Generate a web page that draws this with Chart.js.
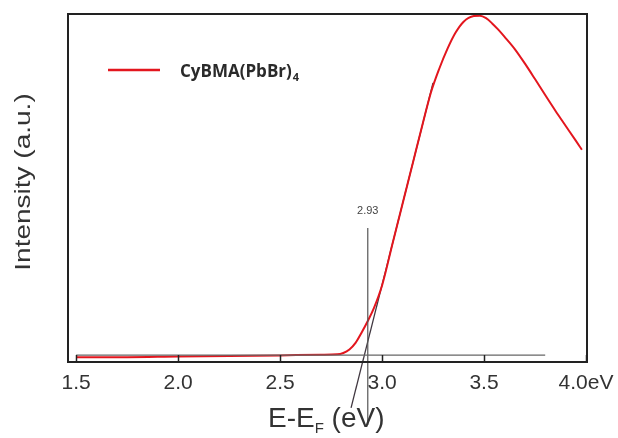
<!DOCTYPE html>
<html lang="en">
<head>
  <meta charset="UTF-8">
  <title>CyBMA(PbBr)4 onset</title>
  <script src="https://cdn.jsdelivr.net/npm/chart.js"></script>
  <style>
    * { margin: 0; padding: 0; box-sizing: border-box; }
    body { background: #fff; width: 618px; height: 438px; overflow: hidden; }
  </style>
</head>
<body>
  <canvas id="spectrum" width="618" height="438"></canvas>

  <script>
    // measured spectrum (eV vs normalised intensity)
    const energy = [1.5, 1.75, 2.0, 2.25, 2.5, 2.7, 2.78, 2.81, 2.84, 2.87, 2.9, 2.93, 2.96, 3.0, 3.05, 3.1, 3.15, 3.2, 3.24, 3.28, 3.32, 3.36, 3.4, 3.45, 3.48, 3.51, 3.54, 3.57, 3.6, 3.65, 3.7, 3.75, 3.8, 3.85, 3.9, 3.95, 3.98];
    const intensity = [0.014, 0.014, 0.016, 0.017, 0.019, 0.021, 0.022, 0.026, 0.036, 0.055, 0.085, 0.118, 0.155, 0.22, 0.337, 0.453, 0.57, 0.686, 0.775, 0.842, 0.899, 0.946, 0.978, 0.994, 0.995, 0.988, 0.973, 0.955, 0.935, 0.9, 0.858, 0.813, 0.767, 0.722, 0.679, 0.636, 0.61];

    // onset construction: baseline, tangent to the rising edge, marker at the crossing
    const baselineX = [1.5, 3.8];
    const baselineY = [0.02, 0.02];
    const tangentX = [2.848, 3.25];
    const tangentY = [-0.132, 0.802];
    const onset = 2.93;
    const onsetY = [-0.181, 0.385];

    const xTicks = [1.5, 2.0, 2.5, 3.0, 3.5, 4.0];
    const toPts = (xs, ys) => xs.map((x, i) => ({ x: x, y: ys[i] }));

    const decorations = {
      id: 'decorations',
      afterDraw(chart) {
        const { ctx, chartArea: a, scales: { x } } = chart;
        ctx.save();

        // frame
        ctx.strokeStyle = '#222';
        ctx.lineWidth = 2;
        ctx.strokeRect(a.left, a.top, a.right - a.left, a.bottom - a.top);

        // inward ticks on the energy axis
        ctx.lineWidth = 1.5;
        xTicks.forEach(v => {
          const px = Math.round(x.getPixelForValue(v)) + 0.5;
          ctx.beginPath();
          ctx.moveTo(px, a.bottom);
          ctx.lineTo(px, a.bottom - 7);
          ctx.stroke();
        });

        // onset value label
        ctx.fillStyle = '#444';
        ctx.font = '11px "Liberation Sans", Arial, sans-serif';
        ctx.textAlign = 'center';
        ctx.textBaseline = 'middle';
        ctx.fillText(onset.toFixed(2), x.getPixelForValue(onset), 211);

        // x axis title with subscript
        ctx.fillStyle = '#333';
        ctx.textAlign = 'left';
        ctx.textBaseline = 'alphabetic';
        ctx.font = '28px "Liberation Sans", Arial, sans-serif';
        let tx = 268;
        ctx.fillText('E-E', tx, 427);
        tx += ctx.measureText('E-E').width;
        ctx.font = '15px "Liberation Sans", Arial, sans-serif';
        ctx.fillText('F', tx, 433);
        tx += ctx.measureText('F').width;
        ctx.font = '28px "Liberation Sans", Arial, sans-serif';
        ctx.fillText(' (eV)', tx, 427);

        // y axis title
        ctx.save();
        ctx.translate(30, 182);
        ctx.rotate(-Math.PI / 2);
        ctx.scale(1, 0.8);
        ctx.textAlign = 'center';
        ctx.textBaseline = 'alphabetic';
        ctx.font = '28px "Liberation Sans", Arial, sans-serif';
        ctx.fillText('Intensity (a.u.)', 0, 0);
        ctx.restore();

        // legend
        ctx.strokeStyle = '#e3161e';
        ctx.lineWidth = 2.5;
        ctx.beginPath();
        ctx.moveTo(108, 70);
        ctx.lineTo(160, 70);
        ctx.stroke();
        ctx.fillStyle = '#2a2a2a';
        ctx.textBaseline = 'middle';
        ctx.textAlign = 'left';
        ctx.font = 'bold 17px "Open Sans", Lato, sans-serif';
        ctx.fillText('CyBMA(PbBr)', 180, 72);
        const lw = ctx.measureText('CyBMA(PbBr)').width;
        ctx.font = 'bold 11px "Open Sans", Lato, sans-serif';
        ctx.fillText('4', 181 + lw, 78);

        ctx.restore();
      }
    };

    new Chart(document.getElementById('spectrum'), {
      type: 'line',
      data: {
        datasets: [
          {
            data: toPts(baselineX, baselineY),
            borderColor: '#666',
            borderWidth: 1.2,
            pointRadius: 0
          },
          {
            data: toPts([onset, onset], onsetY),
            borderColor: '#555',
            borderWidth: 1.2,
            pointRadius: 0,
            clip: false
          },
          {
            data: toPts(energy, intensity),
            borderColor: '#e3161e',
            borderWidth: 2,
            pointRadius: 0,
            cubicInterpolationMode: 'monotone'
          },
          {
            data: toPts(tangentX, tangentY),
            borderColor: 'rgba(30,20,30,0.85)',
            borderWidth: 1.3,
            pointRadius: 0,
            clip: false
          }
        ]
      },
      options: {
        responsive: false,
        animation: false,
        events: [],
        layout: { padding: { left: 68, right: 31, top: 14, bottom: 0 } },
        plugins: { legend: { display: false }, tooltip: { enabled: false } },
        scales: {
          x: {
            type: 'linear',
            min: 1.46,
            max: 4.005,
            afterFit(scale) {
              scale.height = 76;
              scale.paddingLeft = 0;
              scale.paddingRight = 0;
            },
            afterBuildTicks(scale) { scale.ticks = xTicks.map(v => ({ value: v })); },
            grid: { display: false, drawTicks: false },
            border: { display: false },
            ticks: {
              padding: 9,
              color: '#333',
              font: { size: 21, family: '"Liberation Sans", Arial, sans-serif' },
              callback: v => v === 4 ? '4.0eV' : v.toFixed(1)
            }
          },
          y: {
            display: false,
            min: 0,
            max: 1
          }
        }
      },
      plugins: [decorations]
    });
  </script>
</body>
</html>
